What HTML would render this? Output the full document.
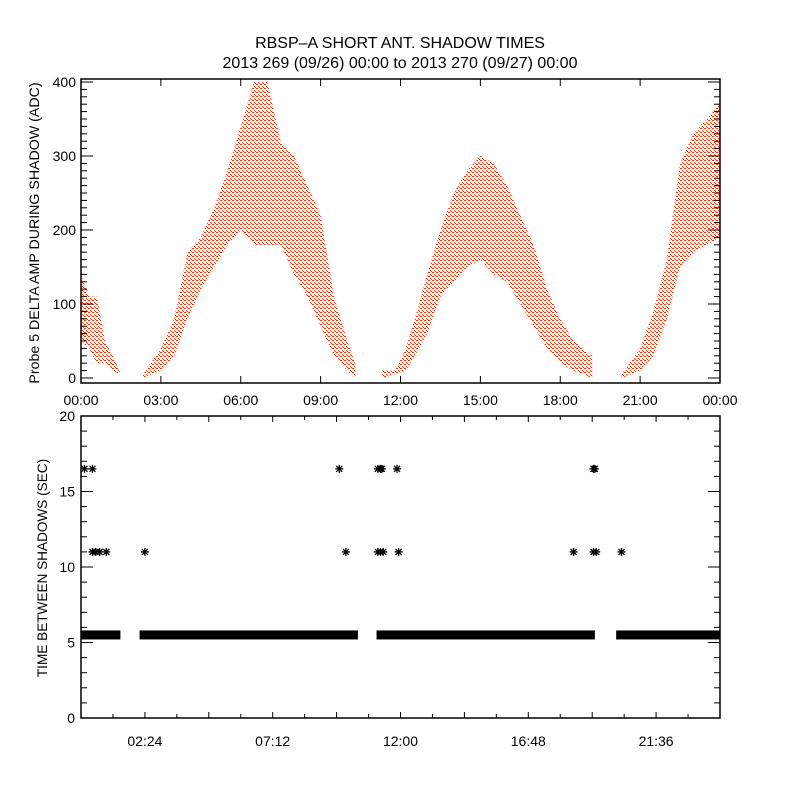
<!DOCTYPE html>
<html><head><meta charset="utf-8"><style>
html,body{margin:0;padding:0;background:#fff;}
svg text{font-family:"Liberation Sans",sans-serif;fill:#000;}
</style></head><body>
<svg id="chart" width="800" height="800" viewBox="0 0 800 800" xmlns="http://www.w3.org/2000/svg">
<defs>
<pattern id="dots" width="4" height="4" patternUnits="userSpaceOnUse">
<rect x="0" y="0" width="2" height="1" fill="#ff2a00"/>
<rect x="2" y="2" width="1" height="1" fill="#ff2a00"/>
<rect x="3" y="3" width="1" height="1" fill="#ff2a00"/>
</pattern>
</defs>
<rect width="800" height="800" fill="#fff"/>
<text x="400" y="48" font-size="16" text-anchor="middle">RBSP–A SHORT ANT. SHADOW TIMES</text>
<text x="400" y="68" font-size="16" text-anchor="middle">2013 269 (09/26) 00:00 to 2013 270 (09/27) 00:00</text>
<g id="topPanel"></g>
<g id="botPanel"></g>
<text transform="translate(39,233) rotate(-90)" font-size="14.2" text-anchor="middle">Probe 5 DELTA AMP DURING SHADOW (ADC)</text>
<text transform="translate(47,568) rotate(-90)" font-size="13.6" text-anchor="middle">TIME BETWEEN SHADOWS (SEC)</text>
</svg>
<script>
// Top panel data: envelope of scatter cloud (hour, low, high) per pass
const pass1Hours=[0,0.3,0.6,0.9,1.2,1.45];
const pass1Low=[50,40,20,20,10,5];
const pass1High=[140,110,110,50,30,10];
const pass2Hours=[2.3,3,3.5,4,4.5,5,5.5,6,6.5,7,7.5,8,8.5,9,9.5,10,10.3];
const pass2Low=[0,10,30,80,120,150,180,200,180,180,180,140,110,70,30,10,0];
const pass2High=[3,40,80,170,190,230,280,340,400,400,320,300,260,220,110,50,20];
const pass3Hours=[11.3,11.8,12.2,12.7,13,13.5,14,14.5,15,15.5,16,16.5,17,17.5,18,18.5,19.2];
const pass3Low=[0,5,10,40,60,110,130,150,160,140,130,100,70,40,20,10,0];
const pass3High=[10,10,40,100,140,200,250,280,300,290,260,220,180,120,80,50,30];
const pass4Hours=[20.3,21,21.5,22,22.5,23,23.5,24];
const pass4Low=[0,10,30,80,150,170,180,190];
const pass4High=[5,40,90,160,290,330,350,370];
const topYTicks=[0,100,200,300,400];
const topXTickLabels=["00:00","03:00","06:00","09:00","12:00","15:00","18:00","21:00","00:00"];
// Bottom panel data
const bandStart=[0,2.2,11.1,20.1];
const bandEnd=[1.48,10.4,19.3,24];
const bandValue=5.5;
const starHours=[0.13,0.43,9.7,11.15,11.25,11.3,11.87,19.25,19.3,0.43,0.55,0.7,0.95,2.4,9.95,11.15,11.25,11.35,11.93,18.5,19.25,19.35,20.3];
const starValues=[16.5,16.5,16.5,16.5,16.5,16.5,16.5,16.5,16.5,11,11,11,11,11,11,11,11,11,11,11,11,11,11];
const botYTicks=[0,5,10,15,20];
const botXTickLabels=["02:24","07:12","12:00","16:48","21:36"];

const NS="http://www.w3.org/2000/svg";
const L=81,R=720;
const xS=h=>L+h*(R-L)/24;
const tyS=v=>378-v*0.74;
const byS=v=>718-v*15.1;
function mk(tag,attrs,parent){const e=document.createElementNS(NS,tag);for(const k in attrs)e.setAttribute(k,attrs[k]);parent.appendChild(e);return e;}
const topG=document.getElementById('topPanel'),botG=document.getElementById('botPanel');

// clouds
[[pass1Hours,pass1Low,pass1High],[pass2Hours,pass2Low,pass2High],[pass3Hours,pass3Low,pass3High],[pass4Hours,pass4Low,pass4High]].forEach((p,i)=>{
  const [hs,lo,hi]=p;let pts=[];
  hs.forEach((h,j)=>pts.push(xS(h)+','+tyS(hi[j])));
  for(let j=hs.length-1;j>=0;j--)pts.push(xS(hs[j])+','+tyS(lo[j]));
  const poly=mk('polygon',{points:pts.join(' '),fill:'url(#dots)'},topG);
  
  
});
// top frame & ticks
const tf=mk('rect',{x:L,y:79,width:R-L,height:304,fill:'none',stroke:'#000','stroke-width':1.5},topG);


for(let v=0;v<=410;v+=10){const y=tyS(v);if(y<79)continue;const len=v%100===0?12:6;
  mk('line',{x1:L,x2:L+len,y1:y,y2:y,stroke:'#000'},topG);mk('line',{x1:R,x2:R-len,y1:y,y2:y,stroke:'#000'},topG);}
topYTicks.forEach(v=>{const t=mk('text',{x:L-5,y:tyS(v)+5,'font-size':14,'text-anchor':'end'},topG);t.textContent=v;
  
  });
topXTickLabels.forEach((s,i)=>{const x=xS(i*3);
  mk('line',{x1:x,x2:x,y1:79,y2:86,stroke:'#000'},topG);mk('line',{x1:x,x2:x,y1:383,y2:376,stroke:'#000'},topG);
  const t=mk('text',{x:x,y:405,'font-size':14,'text-anchor':'middle'},topG);t.textContent=s;
  
  });

// bottom bands
bandStart.forEach((s,i)=>{const r=mk('rect',{x:xS(s),y:byS(bandValue)-4.5,width:xS(bandEnd[i])-xS(s),height:9,fill:'#000'},botG);
  
  });
starHours.forEach((h,i)=>{const cx=xS(h),cy=byS(starValues[i]);const g=mk('g',{stroke:'#000','stroke-width':1.3},botG);
  
  
  mk('line',{x1:cx-4,x2:cx+4,y1:cy,y2:cy},g);mk('line',{x1:cx,x2:cx,y1:cy-4,y2:cy+4},g);
  mk('line',{x1:cx-3,x2:cx+3,y1:cy-3,y2:cy+3},g);mk('line',{x1:cx-3,x2:cx+3,y1:cy+3,y2:cy-3},g);});
const bf=mk('rect',{x:L,y:byS(20),width:R-L,height:718-byS(20),fill:'none',stroke:'#000','stroke-width':1.5},botG);


for(let v=0;v<=20;v++){const y=byS(v);const len=v%5===0?12:6;
  mk('line',{x1:L,x2:L+len,y1:y,y2:y,stroke:'#000'},botG);mk('line',{x1:R,x2:R-len,y1:y,y2:y,stroke:'#000'},botG);}
botYTicks.forEach(v=>{const t=mk('text',{x:L-6,y:byS(v)+5,'font-size':14,'text-anchor':'end'},botG);t.textContent=v;
  
  });
for(let k=1;k<20;k++){const x=xS(k*1.2);const len=k%2===0?6:4;
  mk('line',{x1:x,x2:x,y1:718,y2:718-len,stroke:'#000'},botG);mk('line',{x1:x,x2:x,y1:byS(20),y2:byS(20)+len,stroke:'#000'},botG);}
botXTickLabels.forEach((s,i)=>{const t=mk('text',{x:xS(2.4+i*4.8),y:746,'font-size':14,'text-anchor':'middle'},botG);t.textContent=s;
  
  });
</script>
</body></html>
